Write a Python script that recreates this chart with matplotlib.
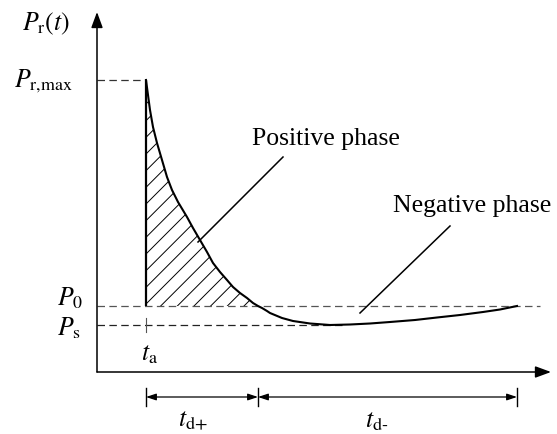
import matplotlib
matplotlib.use("Agg")
import matplotlib.pyplot as plt
import numpy as np

plt.rcParams['mathtext.fontset'] = 'stix'
plt.rcParams['font.family'] = ['Liberation Serif', 'DejaVu Serif']
plt.rcParams['hatch.linewidth'] = 0.7

# ---- data (time t, pressure P in arbitrary schematic units) ----
t_a = 49
t_pos_end = 161
t_neg_end = 420
P0 = 66
Ps = 47
Pmax = 292

t_curve = [49, 53, 56, 60, 65, 70, 75, 81, 90, 96, 103, 110, 116, 123, 130, 136, 143, 150, 156, 161,
           165, 170, 173, 185, 196, 213, 233, 253, 273, 293, 318, 340, 363, 386, 403, 420]
P_curve = [292, 262, 245, 229, 212, 195, 182, 170, 155, 144, 132, 120, 109, 100, 92, 85, 79, 74, 69, 66,
           64, 61, 59, 54, 51, 48.5, 47, 47.5, 48.5, 50, 52, 54.5, 57, 60, 62.5, 66]

labels_y = {'Pr(t)': r'$P_{\mathrm{r}}(t)$', 'Pmax': r'$P_{\mathrm{r{,}max}}$',
            'P0': r'$P_0$', 'Ps': r'$P_{\mathrm{s}}$'}
labels_x = {'ta': r'$t_{\mathrm{a}}$', 'tdp': r'$t_{\text{d+}}$', 'tdm': r'$t_{\text{d-}}$'}
phase_labels = ['Positive phase', 'Negative phase']

# ---- figure ----
fig = plt.figure(figsize=(5.57, 4.34), dpi=100)
ax = fig.add_axes([0, 0, 1, 1])
ax.set_xlim(-97, 460)
ax.set_ylim(-62, 372)
ax.axis('off')

t_curve = np.array(t_curve, float)
P_curve = np.array(P_curve, float)

# axes with arrows
ax.annotate('', xy=(0, 360), xytext=(0, 0),
            arrowprops=dict(arrowstyle='-|>,head_length=0.95,head_width=0.35', mutation_scale=10,
                            color='black', lw=1.1, shrinkA=0, shrinkB=0))
ax.annotate('', xy=(454, 0), xytext=(0, 0),
            arrowprops=dict(arrowstyle='-|>,head_length=0.95,head_width=0.35', mutation_scale=10,
                            color='black', lw=1.1, shrinkA=0, shrinkB=0))

# reference dashed lines
ax.plot([0, t_a], [Pmax, Pmax], ls=(0, (6, 3.5)), color='#333333', lw=0.9)
ax.plot([0, 443], [P0, P0], ls=(0, (6, 3.5)), color='#555555', lw=0.9)
ax.plot([0, 245], [Ps, Ps], ls=(0, (6, 3.5)), color='#222222', lw=0.9)
ax.plot([t_a, t_a], [Ps - 7, Ps + 7], color='#555555', lw=0.8)

# hatched positive phase
mask = t_curve <= t_pos_end
ax.fill_between(t_curve[mask], P0, P_curve[mask], facecolor='none', edgecolor='black',
                hatch='//', lw=0)

# curve and front
ax.plot([t_a, t_a], [P0, Pmax], color='black', lw=1.6, solid_capstyle='butt')
ax.plot(t_curve, P_curve, color='black', lw=1.5)

# leader lines
ax.plot([101, 186], [130, 215], color='black', lw=1.1)
ax.plot([263, 353], [59, 146], color='black', lw=1.1)

# dimension arrows
ya = -25
for t in [t_a, t_pos_end, t_neg_end]:
    ax.plot([t, t], [ya - 9, ya + 9], color='black', lw=1.0)
for a, b in [(t_a, t_pos_end), (t_pos_end, t_neg_end)]:
    ax.annotate('', xy=(b, ya), xytext=(a, ya),
                arrowprops=dict(arrowstyle='<|-|>,head_length=0.6,head_width=0.2', mutation_scale=10,
                                color='black', lw=0.9, shrinkA=0, shrinkB=0))

fs = 18.5
ax.text(-75, 342, labels_y['Pr(t)'], fontsize=fs, va='baseline', ha='left')
ax.text(-83, 285, labels_y['Pmax'], fontsize=fs, va='baseline', ha='left')
ax.text(-40, 67, labels_y['P0'], fontsize=fs, va='baseline', ha='left')
ax.text(-40, 37, labels_y['Ps'], fontsize=fs, va='baseline', ha='left')
ax.text(53, 12, labels_x['ta'], fontsize=fs, va='baseline', ha='center')
ax.text(96, -55, labels_x['tdp'], fontsize=fs, va='baseline', ha='center')
ax.text(280, -55, labels_x['tdm'], fontsize=fs, va='baseline', ha='center')
ax.text(155, 227, phase_labels[0], fontsize=fs, va='baseline', ha='left')
ax.text(296, 160, phase_labels[1], fontsize=fs, va='baseline', ha='left')

fig.savefig('out.png', dpi=100)
